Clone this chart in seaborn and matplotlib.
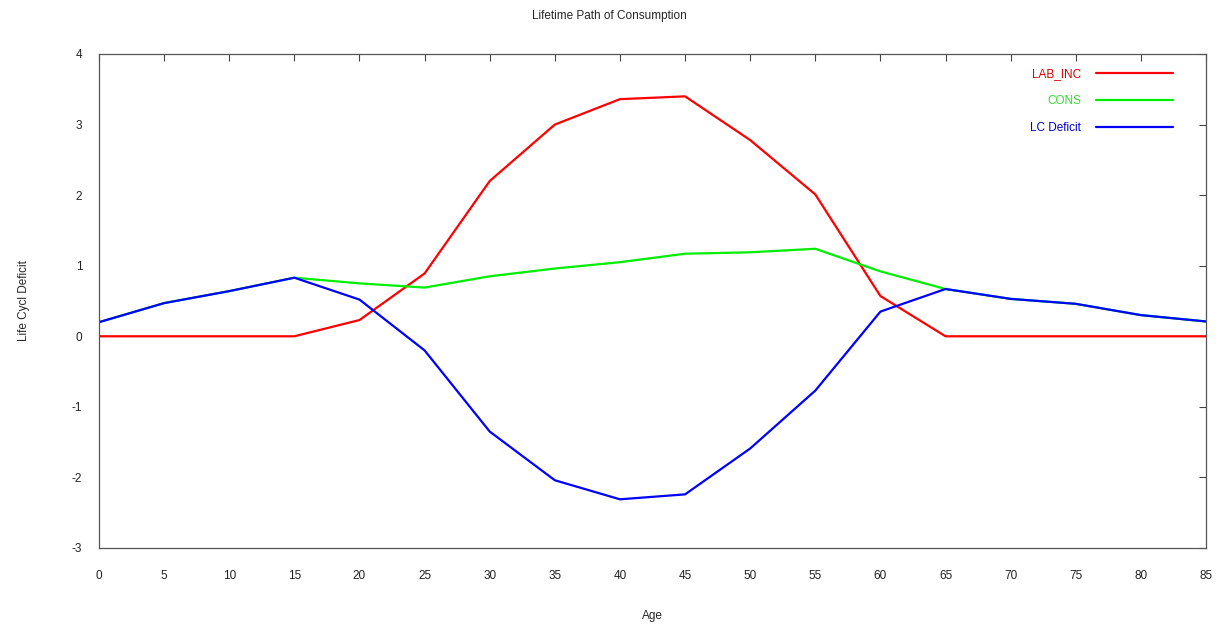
import matplotlib
matplotlib.use("Agg")
import matplotlib.pyplot as plt
import seaborn as sns
import pandas as pd

ages = [0, 5, 10, 15, 20, 25, 30, 35, 40, 45, 50, 55, 60, 65, 70, 75, 80, 85]
lab_inc = [0, 0, 0, 0, 0.23, 0.89, 2.20, 3.00, 3.36, 3.40, 2.78, 2.01, 0.57, 0, 0, 0, 0, 0]
cons = [0.20, 0.47, 0.64, 0.83, 0.75, 0.69, 0.85, 0.96, 1.05, 1.17, 1.19, 1.24, 0.92, 0.67, 0.53, 0.46, 0.30, 0.21]
lc_deficit = [0.20, 0.47, 0.64, 0.83, 0.52, -0.20, -1.35, -2.04, -2.31, -2.24, -1.59, -0.77, 0.35, 0.67, 0.53, 0.46, 0.30, 0.21]
series_names = ["LAB_INC", "CONS", "LC Deficit"]
series_colors = ["#ff0000", "#00ee00", "#0000ff"]
xticks = list(range(0, 90, 5))
yticks = [-3, -2, -1, 0, 1, 2, 3, 4]

sns.set_style("white")
plt.rcParams['font.family'] = ['Liberation Sans', 'DejaVu Sans']
plt.rcParams['axes.unicode_minus'] = False

fig = plt.figure(figsize=(12.19, 6.24), dpi=100)
ax = fig.add_axes([99/1219, 1-548/624, (1206-99)/1219, (548-54)/624])

df = pd.DataFrame({"Age": ages, "LAB_INC": lab_inc, "CONS": cons, "LC Deficit": lc_deficit})
for name, col in zip(series_names, series_colors):
    sns.lineplot(data=df, x="Age", y=name, ax=ax, color=col, linewidth=1.6, label=name)

ax.set_xlim(0, 85)
ax.set_ylim(-3, 4)
ax.set_xticks(xticks)
ax.set_yticks(yticks)
ax.tick_params(direction='in', length=5, width=0.8, color='#444444', top=True, right=True,
               labelsize=8.5, labelcolor='#222222')
ax.tick_params(axis='x', pad=16)
ax.tick_params(axis='y', pad=12)
for s in ax.spines.values():
    s.set_color('#555555')
    s.set_linewidth(0.9)

ax.set_xlabel("Age", fontsize=8.5, labelpad=20)
ax.set_ylabel("Life Cycl Deficit", fontsize=8.5, labelpad=30)
fig.text(0.5, 1-16/624, "Lifetime Path of Consumption", ha='center', va='center', fontsize=8.5)

leg = ax.legend(loc='upper right', frameon=False, markerfirst=False, labelcolor='linecolor',
                fontsize=8.5, handlelength=6.5, handletextpad=1.3, labelspacing=1.25,
                borderaxespad=0.8, bbox_to_anchor=(0.983, 1.0))
for t, c in zip(leg.get_texts(), ["#dd0000", "#33dd33", "#0000cc"]):
    t.set_color(c)
    t.set_ha('right')

fig.savefig("out.png", dpi=100)
